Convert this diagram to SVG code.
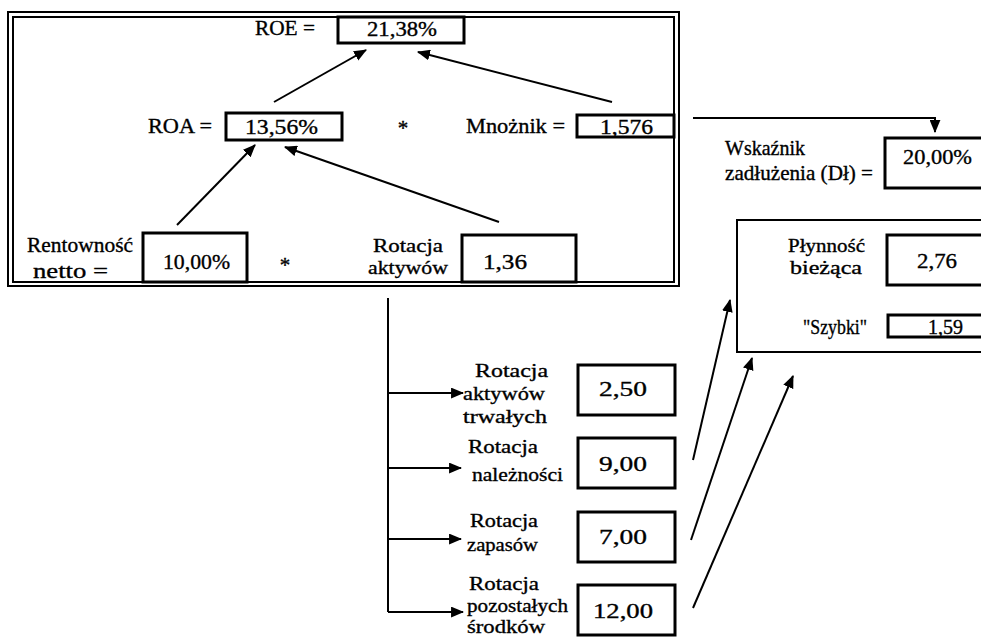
<svg xmlns="http://www.w3.org/2000/svg" width="981" height="638" viewBox="0 0 981 638" font-family="'Liberation Serif', serif">
<style>
text{font-family:'Liberation Serif','Times New Roman',serif;font-size:21px;fill:#000;stroke:#000;stroke-width:0.35}
text.s{font-size:19px}
.box{fill:#fff;stroke:#000;stroke-width:3}
.frame{fill:none;stroke:#000;stroke-width:2}
.ln{fill:none;stroke:#000;stroke-width:2}
</style>
<defs>
<marker id="ah" viewBox="0 0 12 10" refX="11" refY="5" markerWidth="13" markerHeight="11" orient="auto" markerUnits="userSpaceOnUse">
<path d="M0,0 L12,5 L0,10 z" fill="#000"/>
</marker>
</defs>
<rect width="981" height="638" fill="#fff"/>
<g id="frame">
<rect class="frame" x="8" y="12" width="671" height="274"/>
<rect class="frame" x="13" y="17" width="661" height="265"/>
</g>
<g id="roe">
<text x="255" y="35" textLength="60" lengthAdjust="spacingAndGlyphs">ROE =</text>
<rect class="box" x="338" y="17" width="126" height="26"/>
<text x="367" y="36" textLength="70" lengthAdjust="spacingAndGlyphs">21,38%</text>
</g>
<g id="roa">
<text x="148" y="133" textLength="64" lengthAdjust="spacingAndGlyphs">ROA =</text>
<rect class="box" x="226" y="113" width="116" height="27"/>
<text x="245" y="134" textLength="73" lengthAdjust="spacingAndGlyphs">13,56%</text>
</g>
<g id="mult1"><text x="403" y="135" text-anchor="middle">*</text></g>
<g id="mnoznik">
<text x="466" y="133" textLength="99" lengthAdjust="spacingAndGlyphs">Mnożnik =</text>
<rect class="box" x="577" y="115" width="97" height="22"/>
<text x="600" y="134" textLength="53" lengthAdjust="spacingAndGlyphs">1,576</text>
</g>
<g id="rentownosc">
<text x="27" y="252" textLength="106" lengthAdjust="spacingAndGlyphs">Rentowność</text>
<text x="33" y="278" textLength="75" lengthAdjust="spacingAndGlyphs">netto =</text>
<rect class="box" x="143" y="233" width="104" height="49"/>
<text x="163" y="269" textLength="67" lengthAdjust="spacingAndGlyphs">10,00%</text>
</g>
<g id="mult2"><text x="285" y="272" text-anchor="middle">*</text></g>
<g id="rotacja-aktywow">
<text class="s" x="373" y="252" textLength="70" lengthAdjust="spacingAndGlyphs">Rotacja</text>
<text class="s" x="368" y="274" textLength="80" lengthAdjust="spacingAndGlyphs">aktywów</text>
<rect class="box" x="462" y="235" width="114" height="47"/>
<text x="483" y="269" textLength="44" lengthAdjust="spacingAndGlyphs">1,36</text>
</g>
<g id="wskaznik">
<text x="725" y="155" textLength="80" lengthAdjust="spacingAndGlyphs">Wskaźnik</text>
<text x="725" y="180" textLength="148" lengthAdjust="spacingAndGlyphs">zadłużenia (Dł) =</text>
<rect class="box" x="885" y="138" width="110" height="50"/>
<text x="903" y="164" textLength="69" lengthAdjust="spacingAndGlyphs">20,00%</text>
</g>
<g id="plynnosc">
<rect x="737" y="220" width="260" height="132" fill="none" stroke="#000" stroke-width="2"/>
<text class="s" x="788" y="252" textLength="77" lengthAdjust="spacingAndGlyphs">Płynność</text>
<text class="s" x="790" y="274" textLength="72" lengthAdjust="spacingAndGlyphs">bieżąca</text>
<rect class="box" x="887" y="235" width="110" height="50"/>
<text x="917" y="268" textLength="40" lengthAdjust="spacingAndGlyphs">2,76</text>
<text x="803" y="334" textLength="64" lengthAdjust="spacingAndGlyphs">"Szybki"</text>
<rect class="box" x="888" y="315" width="110" height="22"/>
<text x="928" y="334" textLength="35" lengthAdjust="spacingAndGlyphs">1,59</text>
</g>
<g id="rot-trwalych">
<text class="s" x="475" y="377" textLength="73" lengthAdjust="spacingAndGlyphs">Rotacja</text>
<text class="s" x="463" y="400" textLength="82" lengthAdjust="spacingAndGlyphs">aktywów</text>
<text class="s" x="463" y="423" textLength="84" lengthAdjust="spacingAndGlyphs">trwałych</text>
<rect class="box" x="578" y="365" width="97" height="50"/>
<text x="599" y="396" textLength="48" lengthAdjust="spacingAndGlyphs">2,50</text>
</g>
<g id="rot-naleznosci">
<text class="s" x="468" y="453" textLength="70" lengthAdjust="spacingAndGlyphs">Rotacja</text>
<text class="s" x="472" y="481" textLength="91" lengthAdjust="spacingAndGlyphs">należności</text>
<rect class="box" x="578" y="438" width="97" height="50"/>
<text x="599" y="471" textLength="48" lengthAdjust="spacingAndGlyphs">9,00</text>
</g>
<g id="rot-zapasow">
<text class="s" x="470" y="527" textLength="68" lengthAdjust="spacingAndGlyphs">Rotacja</text>
<text class="s" x="467" y="551" textLength="71" lengthAdjust="spacingAndGlyphs">zapasów</text>
<rect class="box" x="578" y="512" width="97" height="50"/>
<text x="599" y="544" textLength="48" lengthAdjust="spacingAndGlyphs">7,00</text>
</g>
<g id="rot-pozostalych">
<text class="s" x="469" y="590" textLength="70" lengthAdjust="spacingAndGlyphs">Rotacja</text>
<text class="s" x="467" y="612" textLength="101" lengthAdjust="spacingAndGlyphs">pozostałych</text>
<text class="s" x="467" y="633" textLength="78" lengthAdjust="spacingAndGlyphs">środków</text>
<rect class="box" x="578" y="585" width="97" height="50"/>
<text x="593" y="618" textLength="60" lengthAdjust="spacingAndGlyphs">12,00</text>
</g>
<g id="connectors">
<line class="ln" x1="274" y1="102" x2="366" y2="50" marker-end="url(#ah)"/>
<line class="ln" x1="612" y1="102" x2="418" y2="52" marker-end="url(#ah)"/>
<line class="ln" x1="177" y1="225" x2="255" y2="145" marker-end="url(#ah)"/>
<line class="ln" x1="499" y1="222" x2="285" y2="147" marker-end="url(#ah)"/>
<polyline class="ln" points="693,118 935,118 935,132" marker-end="url(#ah)"/>
<line class="ln" x1="388" y1="298" x2="388" y2="612"/>
<line class="ln" x1="388" y1="393" x2="463" y2="393" marker-end="url(#ah)"/>
<line class="ln" x1="388" y1="468" x2="461" y2="468" marker-end="url(#ah)"/>
<line class="ln" x1="388" y1="539" x2="461" y2="539" marker-end="url(#ah)"/>
<line class="ln" x1="388" y1="612" x2="463" y2="612" marker-end="url(#ah)"/>
<line class="ln" x1="693" y1="460" x2="730" y2="300" marker-end="url(#ah)"/>
<line class="ln" x1="691" y1="540" x2="752" y2="358" marker-end="url(#ah)"/>
<line class="ln" x1="693" y1="608" x2="793" y2="376" marker-end="url(#ah)"/>
</g>
</svg>
